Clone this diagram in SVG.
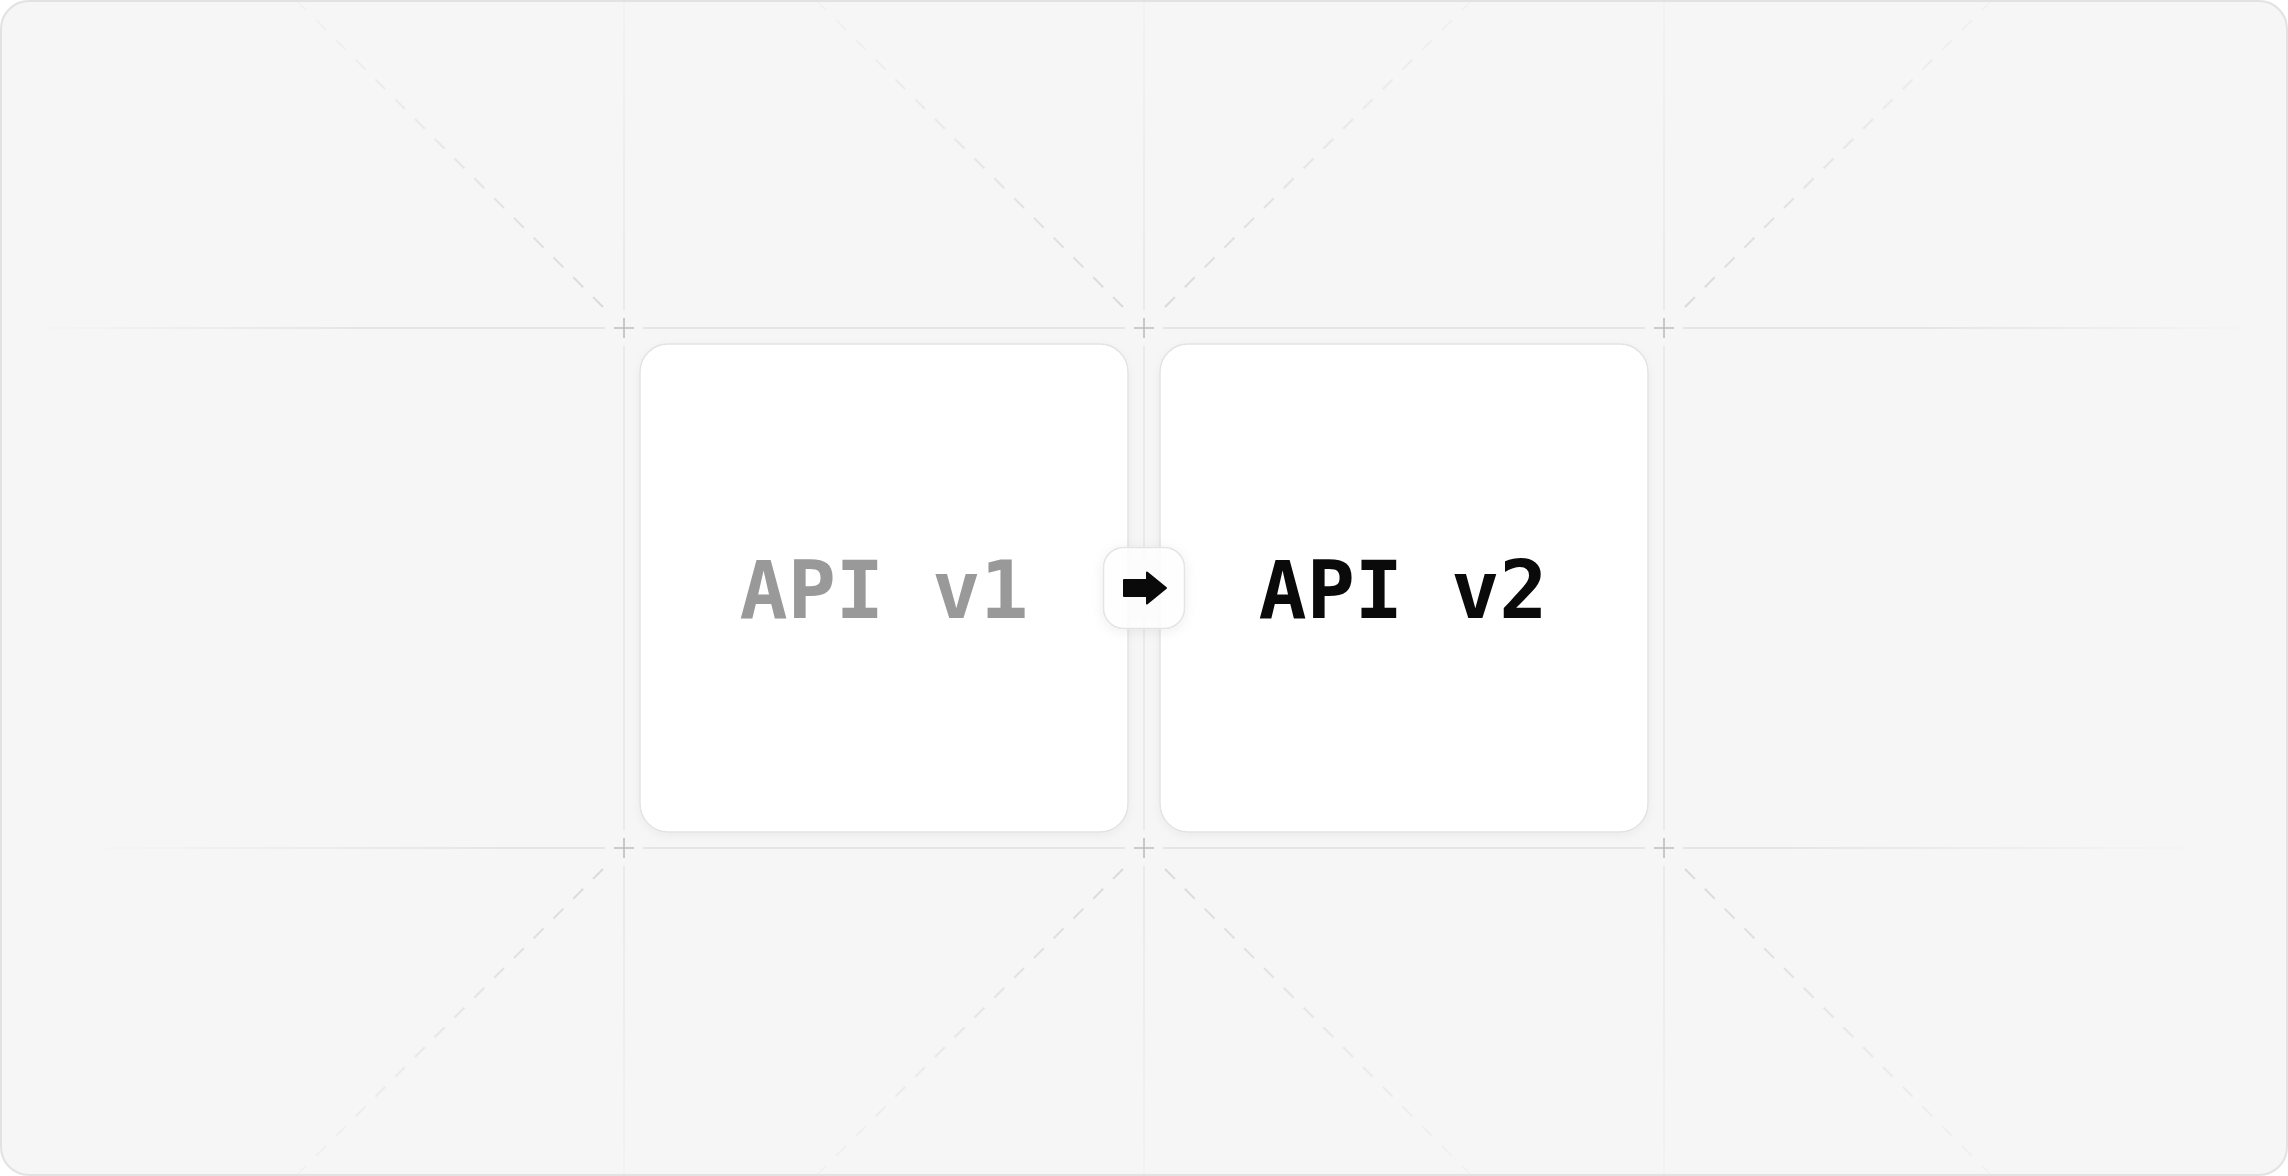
<svg xmlns="http://www.w3.org/2000/svg" width="2288" height="1176" viewBox="0 0 2288 1176">
  <style>
    .grid { stroke-width: 1.5; fill: none; }
    .diag { stroke-width: 2; stroke-dasharray: 14 14; fill: none; }
    .cross { stroke: #bdbdbd; stroke-width: 1.6; fill: none; }
    .card { fill: #ffffff; stroke: #e3e3e3; stroke-width: 1.5; }
    .label { font-family: "DejaVu Sans Mono", "Liberation Mono", monospace; font-size: 80px; font-weight: bold; text-anchor: middle; }
  </style>
  <defs>
    <filter id="shadow" x="-10%" y="-10%" width="120%" height="125%">
      <feDropShadow dx="0" dy="3" stdDeviation="4" flood-color="#000" flood-opacity="0.045"/>
    </filter>
    <filter id="btnShadow" x="-40%" y="-40%" width="180%" height="180%">
      <feDropShadow dx="0" dy="2" stdDeviation="6" flood-color="#000" flood-opacity="0.08"/>
    </filter>
    <linearGradient id="hTop" gradientUnits="userSpaceOnUse" x1="20" y1="0" x2="2268" y2="0">
      <stop offset="0" stop-color="#e0e0e0" stop-opacity="0"/>
      <stop offset="0.15" stop-color="#e0e0e0" stop-opacity="1"/>
      <stop offset="0.85" stop-color="#e0e0e0" stop-opacity="1"/>
      <stop offset="1" stop-color="#e0e0e0" stop-opacity="0"/>
    </linearGradient>
    <linearGradient id="hBot" gradientUnits="userSpaceOnUse" x1="70" y1="0" x2="2218" y2="0">
      <stop offset="0" stop-color="#e0e0e0" stop-opacity="0"/>
      <stop offset="0.2" stop-color="#e0e0e0" stop-opacity="1"/>
      <stop offset="0.8" stop-color="#e0e0e0" stop-opacity="1"/>
      <stop offset="1" stop-color="#e0e0e0" stop-opacity="0"/>
    </linearGradient>
    <linearGradient id="vGrad" gradientUnits="userSpaceOnUse" x1="0" y1="0" x2="0" y2="1176">
      <stop offset="0" stop-color="#e6e6e6" stop-opacity="0.3"/>
      <stop offset="0.25" stop-color="#e6e6e6" stop-opacity="1"/>
      <stop offset="0.75" stop-color="#e6e6e6" stop-opacity="1"/>
      <stop offset="1" stop-color="#e6e6e6" stop-opacity="0.3"/>
    </linearGradient>
    <linearGradient id="d1" gradientUnits="userSpaceOnUse" x1="603" y1="307" x2="296" y2="0"><stop offset="0" stop-color="#dadada"/><stop offset="1" stop-color="#dadada" stop-opacity="0.15"/></linearGradient>
    <linearGradient id="d2" gradientUnits="userSpaceOnUse" x1="1123" y1="307" x2="816" y2="0"><stop offset="0" stop-color="#dadada"/><stop offset="1" stop-color="#dadada" stop-opacity="0.15"/></linearGradient>
    <linearGradient id="d3" gradientUnits="userSpaceOnUse" x1="1165" y1="307" x2="1472" y2="0"><stop offset="0" stop-color="#dadada"/><stop offset="1" stop-color="#dadada" stop-opacity="0.15"/></linearGradient>
    <linearGradient id="d4" gradientUnits="userSpaceOnUse" x1="1685" y1="307" x2="1992" y2="0"><stop offset="0" stop-color="#dadada"/><stop offset="1" stop-color="#dadada" stop-opacity="0.15"/></linearGradient>
    <linearGradient id="d5" gradientUnits="userSpaceOnUse" x1="603" y1="869" x2="296" y2="1176"><stop offset="0" stop-color="#dadada"/><stop offset="1" stop-color="#dadada" stop-opacity="0.15"/></linearGradient>
    <linearGradient id="d6" gradientUnits="userSpaceOnUse" x1="1123" y1="869" x2="816" y2="1176"><stop offset="0" stop-color="#dadada"/><stop offset="1" stop-color="#dadada" stop-opacity="0.15"/></linearGradient>
    <linearGradient id="d7" gradientUnits="userSpaceOnUse" x1="1165" y1="869" x2="1472" y2="1176"><stop offset="0" stop-color="#dadada"/><stop offset="1" stop-color="#dadada" stop-opacity="0.15"/></linearGradient>
    <linearGradient id="d8" gradientUnits="userSpaceOnUse" x1="1685" y1="869" x2="1992" y2="1176"><stop offset="0" stop-color="#dadada"/><stop offset="1" stop-color="#dadada" stop-opacity="0.15"/></linearGradient>
  </defs>

  <rect x="0" y="0" width="2288" height="1176" fill="#ffffff"/>
  <rect id="frame" x="1" y="1" width="2286" height="1174" rx="28" ry="28" fill="#f6f6f6" stroke="#e2e2e2" stroke-width="2"/>

  <g id="grid">
    <path class="grid" stroke="url(#hTop)" d="M20 328 H605 M643 328 H1125 M1163 328 H1645 M1683 328 H2268"/>
    <path class="grid" stroke="url(#hBot)" d="M70 848 H605 M643 848 H1125 M1163 848 H1645 M1683 848 H2218"/>
    <path class="grid" stroke="url(#vGrad)" d="M624 2 V310 M624 346 V830 M624 866 V1174 M1144 2 V310 M1144 346 V830 M1144 866 V1174 M1664 2 V310 M1664 346 V830 M1664 866 V1174"/>
    <line class="diag" stroke="url(#d1)" x1="603" y1="307" x2="296" y2="0"/>
    <line class="diag" stroke="url(#d2)" x1="1123" y1="307" x2="816" y2="0"/>
    <line class="diag" stroke="url(#d3)" x1="1165" y1="307" x2="1472" y2="0"/>
    <line class="diag" stroke="url(#d4)" x1="1685" y1="307" x2="1992" y2="0"/>
    <line class="diag" stroke="url(#d5)" x1="603" y1="869" x2="296" y2="1176"/>
    <line class="diag" stroke="url(#d6)" x1="1123" y1="869" x2="816" y2="1176"/>
    <line class="diag" stroke="url(#d7)" x1="1165" y1="869" x2="1472" y2="1176"/>
    <line class="diag" stroke="url(#d8)" x1="1685" y1="869" x2="1992" y2="1176"/>
    <path class="cross" d="M614 328 H634 M624 318 V338 M1134 328 H1154 M1144 318 V338 M1654 328 H1674 M1664 318 V338 M614 848 H634 M624 838 V858 M1134 848 H1154 M1144 838 V858 M1654 848 H1674 M1664 838 V858"/>
  </g>

  <g id="node-api-v1">
    <rect class="card" x="640" y="344" width="488" height="488" rx="28" ry="28" filter="url(#shadow)"/>
    <text class="label" x="884" y="618" fill="#999999">API v1</text>
  </g>

  <g id="node-api-v2">
    <rect class="card" x="1160" y="344" width="488" height="488" rx="28" ry="28" filter="url(#shadow)"/>
    <text class="label" x="1403" y="618" fill="#0a0a0a">API v2</text>
  </g>

  <g id="connectors">
    <rect x="1103.5" y="547.5" width="81" height="81" rx="20" ry="20" fill="#ffffff" fill-opacity="0.85" stroke="#e4e4e4" stroke-width="1.5" filter="url(#btnShadow)"/>
    <path d="M1124 580 H1147 V572.5 L1166 588 L1147 603.5 V596 H1124 Z" fill="#0a0a0a" stroke="#0a0a0a" stroke-width="2" stroke-linejoin="round"/>
  </g>
</svg>
